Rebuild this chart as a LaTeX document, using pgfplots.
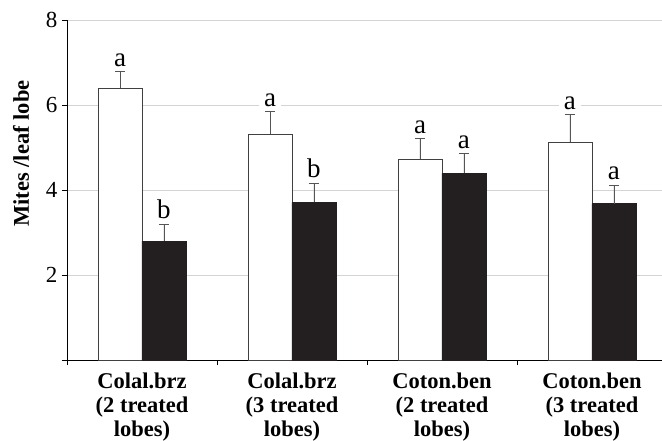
\documentclass[border=0pt]{standalone}
\usepackage{fontspec}
\setmainfont{Liberation Serif}
\usepackage{pgfplots}
\pgfplotsset{compat=1.18}
\definecolor{barblack}{HTML}{231F20}
\definecolor{errgray}{HTML}{555555}
\definecolor{gridgray}{HTML}{D4D4D4}
\begin{document}
\begin{tikzpicture}
\begin{axis}[
  scale only axis,
  width=595bp, height=340bp,
  xmin=-0.5, xmax=3.467,
  ymin=0, ymax=8,
  ybar, bar width=0.293,
  axis lines*=left,
  axis line style={black, line width=0.6pt},
  ytick={0,2,4,6,8},
  yticklabels={,2,4,6,8},
  ymajorgrids,
  grid style={gridgray, line width=0.6pt},
  tick align=outside,
  major tick length=5bp,
  tick style={black, line width=0.6pt},
  /pgf/number format/assume math mode=true,
  yticklabel style={font=\fontsize{23bp}{26bp}\selectfont, xshift=-1bp},
  xtick={0,1,2,3},
  xticklabels={{Colal.brz\\(2 treated\\lobes)},{Colal.brz\\(3 treated\\lobes)},{Coton.ben\\(2 treated\\lobes)},{Coton.ben\\(3 treated\\lobes)}},
  xticklabel style={align=center, font=\bfseries\fontsize{22.5bp}{24bp}\selectfont, yshift=-4bp},
  major x tick style={draw=none},
  extra x ticks={-0.5,0.5,1.5,2.5},
  extra x tick labels={},
  extra x tick style={major x tick style={draw=black}, grid=none, major tick length=5bp},
  ylabel={\bfseries Mites /leaf lobe},
  ylabel style={font=\fontsize{22.5bp}{26bp}\selectfont, at={(axis description cs:-0.0773,0.607)}, anchor=center},
  error bars/error bar style={errgray, line width=0.8pt},
  error bars/error mark options={errgray, line width=0.8pt, mark size=5bp, rotate=90},
]
\addplot[fill=white, draw=black!75, line width=0.6pt, bar shift=-0.1465,
  error bars/.cd, y dir=plus, y explicit]
  coordinates {(0,6.39) +- (0,0.39) (1,5.32) +- (0,0.52) (2,4.72) +- (0,0.49) (3,5.12) +- (0,0.65)};
\addplot[fill=barblack, draw=barblack, line width=0.6pt, bar shift=0.1465,
  error bars/.cd, y dir=plus, y explicit]
  coordinates {(0,2.80) +- (0,0.39) (1,3.71) +- (0,0.45) (2,4.39) +- (0,0.46) (3,3.68) +- (0,0.44)};
\addplot[draw=none, fill=none, bar shift=-0.1465, nodes near coords, point meta=explicit symbolic,
  nodes near coords style={anchor=south, fill=white, inner xsep=5bp, inner ysep=1bp, yshift=4bp, font=\fontsize{27bp}{28bp}\selectfont, text=black}]
  coordinates {(0,6.78)[a] (1,5.84)[a] (2,5.21)[a] (3,5.77)[a]};
\addplot[draw=none, fill=none, bar shift=0.1465, nodes near coords, point meta=explicit symbolic,
  nodes near coords style={anchor=south, fill=white, inner xsep=5bp, inner ysep=1bp, yshift=4bp, font=\fontsize{27bp}{28bp}\selectfont, text=black}]
  coordinates {(0,3.19)[b] (1,4.16)[b] (2,4.85)[a] (3,4.12)[a]};
\end{axis}
\pgfresetboundingbox
\path ([shift={(-67bp,-81bp)}]current axis.south west) rectangle ++(662bp,441bp);
\end{tikzpicture}
\end{document}
